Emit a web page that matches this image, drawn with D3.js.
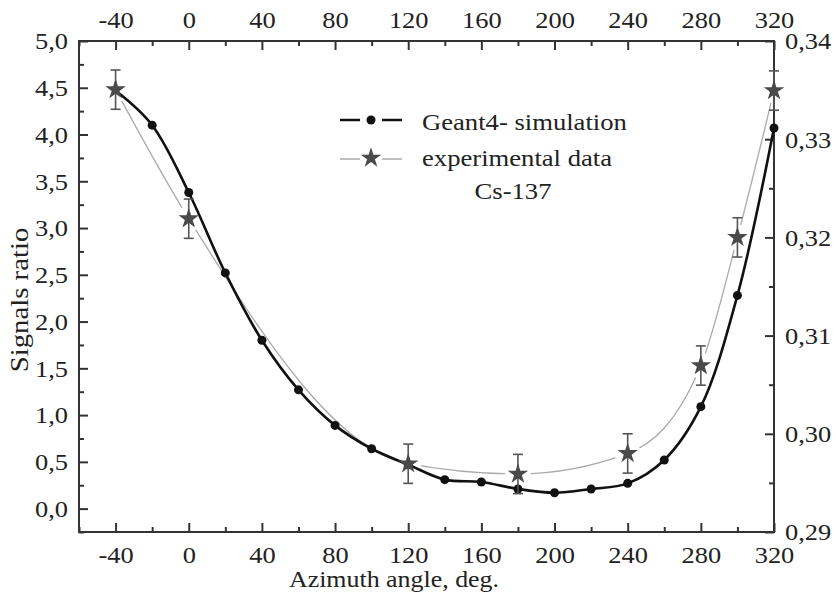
<!DOCTYPE html>
<html>
<head>
<meta charset="utf-8">
<script src="https://cdn.jsdelivr.net/npm/d3@7"></script>
<style>
  html, body { margin: 0; padding: 0; background: #fff; }
  svg text { font-family: "Liberation Serif", "Times New Roman", serif; fill: #222; }
</style>
</head>
<body>
<svg id="chart" width="836" height="597"></svg>
<script>
// ---- data ----
const simAngles = [-40, -20, 0, 20, 40, 60, 80, 100, 120, 140, 160, 180, 200, 220, 240, 260, 280, 300, 320];
const simValues = [4.47, 4.10, 3.38, 2.52, 1.80, 1.27, 0.89, 0.64, 0.47, 0.31, 0.285, 0.21, 0.17, 0.21, 0.27, 0.52, 1.09, 2.28, 4.07];
const expAngles = [-40, 0, 120, 180, 240, 280, 300, 320];
const expValues = [4.48, 3.10, 0.48, 0.37, 0.59, 1.53, 2.90, 4.47];
const expErrors = [0.21, 0.21, 0.21, 0.21, 0.21, 0.21, 0.21, 0.21];
const xTicks = [-40, 0, 40, 80, 120, 160, 200, 240, 280, 320];
const xMinorTicks = [-60, -20, 20, 60, 100, 140, 180, 220, 260, 300];
const yTicks = [0, 0.5, 1, 1.5, 2, 2.5, 3, 3.5, 4, 4.5, 5];
const yMinorTicks = [-0.25, 0.25, 0.75, 1.25, 1.75, 2.25, 2.75, 3.25, 3.75, 4.25, 4.75];
const yRightTicks = [0.29, 0.30, 0.31, 0.32, 0.33, 0.34];
const yRightMinorTicks = [0.295, 0.305, 0.315, 0.325, 0.335];
const legendLabels = ["Geant4- simulation", "experimental data", "Cs-137"];
const xTitle = "Azimuth angle, deg.";
const yTitle = "Signals ratio";

// ---- layout ----
const L = 79, R = 774, T = 41, B = 532;
const SX = 1.15;   // horizontal stretch of the lettering in the reference
const svg = d3.select("#chart");
const x = d3.scaleLinear().domain([-60, 320]).range([L, R]);
const y = d3.scaleLinear().domain([-0.25, 5]).range([B, T]);
const yR = d3.scaleLinear().domain([0.29, 0.34]).range([B, T]);
const fmt1 = d => d.toFixed(1).replace(".", ",");
const fmt2 = d => d.toFixed(2).replace(".", ",");
const axisColor = "#333";

function styleAxis(g) {
  g.select(".domain").remove();
  g.selectAll("line").attr("stroke", axisColor).attr("stroke-width", 2);
  g.selectAll("text").attr("font-size", 23).attr("fill", "#222").attr("font-family", "Liberation Serif");
}

// bottom
svg.append("g").attr("transform", `translate(0,${B})`)
  .call(d3.axisBottom(x).tickValues(xTicks).tickSize(-9).tickFormat(d => d))
  .call(styleAxis)
  .call(g => g.selectAll("text").attr("dy", null).attr("y", 31).attr("transform", `scale(${SX},1)`));
svg.append("g").attr("transform", `translate(0,${B})`)
  .call(d3.axisBottom(x).tickValues(xMinorTicks).tickSize(-5).tickFormat(""))
  .call(styleAxis);
// top
svg.append("g").attr("transform", `translate(0,${T})`)
  .call(d3.axisTop(x).tickValues(xTicks).tickSize(-9).tickFormat(d => d))
  .call(styleAxis)
  .call(g => g.selectAll("text").attr("dy", null).attr("y", -13).attr("transform", `scale(${SX},1)`));
svg.append("g").attr("transform", `translate(0,${T})`)
  .call(d3.axisTop(x).tickValues(xMinorTicks).tickSize(-5).tickFormat(""))
  .call(styleAxis);
// left
svg.append("g").attr("transform", `translate(${L},0)`)
  .call(d3.axisLeft(y).tickValues(yTicks).tickSize(-9).tickPadding(11).tickFormat(fmt1))
  .call(styleAxis)
  .call(g => g.selectAll("text").attr("dy", "0.34em").attr("x", -11 / SX).attr("transform", `scale(${SX},1)`));
svg.append("g").attr("transform", `translate(${L},0)`)
  .call(d3.axisLeft(y).tickValues(yMinorTicks).tickSize(-5).tickFormat(""))
  .call(styleAxis);
// right
svg.append("g").attr("transform", `translate(${R},0)`)
  .call(d3.axisRight(yR).tickValues(yRightTicks).tickSize(-9).tickPadding(11).tickFormat(fmt2))
  .call(styleAxis)
  .call(g => g.selectAll("text").attr("dy", "0.34em").attr("x", 11 / SX).attr("transform", `scale(${SX},1)`));
svg.append("g").attr("transform", `translate(${R},0)`)
  .call(d3.axisRight(yR).tickValues(yRightMinorTicks).tickSize(-5).tickFormat(""))
  .call(styleAxis);

// frame
svg.append("rect").attr("x", L).attr("y", T).attr("width", R - L).attr("height", B - T)
  .attr("fill", "none").attr("stroke", axisColor).attr("stroke-width", 2);

// titles
svg.append("text").attr("transform", "translate(394,587) scale(1.08,1)").attr("text-anchor", "middle")
  .attr("font-size", 24).text(xTitle);
svg.append("text").attr("transform", "translate(28,300) rotate(-90) scale(1.15,1)").attr("text-anchor", "middle")
  .attr("font-size", 25).text(yTitle);

// ---- data marks ----
const expPts = expAngles.map((a, i) => ({ a, v: expValues[i], e: expErrors[i] }));
const simPts = simAngles.map((a, i) => ({ a, v: simValues[i] }));

// mask to break gray line around stars
const defs = svg.append("defs");
const mask = defs.append("mask").attr("id", "starGap").attr("maskUnits", "userSpaceOnUse")
  .attr("x", 0).attr("y", 0).attr("width", 836).attr("height", 597);
mask.append("rect").attr("width", 836).attr("height", 597).attr("fill", "#fff");
mask.selectAll("circle").data(expPts).join("circle")
  .attr("cx", d => x(d.a)).attr("cy", d => y(d.v)).attr("r", 13).attr("fill", "#000");

const grayLine = d3.line().x(d => x(d.a)).y(d => y(d.v)).curve(d3.curveMonotoneX);
svg.append("path").datum(expPts).attr("d", grayLine)
  .attr("fill", "none").attr("stroke", "#aaa").attr("stroke-width", 1.3)
  .attr("mask", "url(#starGap)");

const blackLine = d3.line().x(d => x(d.a)).y(d => y(d.v)).curve(d3.curveCatmullRom.alpha(0.5));
svg.append("path").datum(simPts).attr("d", blackLine)
  .attr("fill", "none").attr("stroke", "#111").attr("stroke-width", 2.6);

svg.append("g").selectAll("circle").data(simPts.slice(1)).join("circle")
  .attr("cx", d => x(d.a)).attr("cy", d => y(d.v)).attr("r", 4.5).attr("fill", "#111");

// error bars
const eb = svg.append("g").attr("stroke", "#555").attr("stroke-width", 1.6);
expPts.forEach(d => {
  const cx = x(d.a);
  eb.append("line").attr("x1", cx).attr("x2", cx).attr("y1", y(d.v + d.e)).attr("y2", y(d.v - d.e));
  eb.append("line").attr("x1", cx - 5).attr("x2", cx + 5).attr("y1", y(d.v + d.e)).attr("y2", y(d.v + d.e));
  eb.append("line").attr("x1", cx - 5).attr("x2", cx + 5).attr("y1", y(d.v - d.e)).attr("y2", y(d.v - d.e));
});

const star = d3.symbol().type(d3.symbolStar).size(130);
svg.append("g").selectAll("path").data(expPts).join("path")
  .attr("transform", d => `translate(${x(d.a)},${y(d.v)})`)
  .attr("d", star).attr("fill", "#4a4a4a");

// ---- legend ----
const lg = svg.append("g");
lg.append("line").attr("x1", 340).attr("x2", 402).attr("y1", 120).attr("y2", 120)
  .attr("stroke", "#111").attr("stroke-width", 2.6).attr("stroke-dasharray", "20,22");
lg.append("circle").attr("cx", 371).attr("cy", 120).attr("r", 4.5).attr("fill", "#111");
lg.append("line").attr("x1", 340).attr("x2", 402).attr("y1", 159).attr("y2", 159)
  .attr("stroke", "#aaa").attr("stroke-width", 1.3).attr("stroke-dasharray", "20,22");
lg.append("path").attr("transform", "translate(371,158)").attr("d", star).attr("fill", "#4a4a4a");
lg.append("text").attr("transform", `translate(422,130) scale(1.11,1)`).attr("font-size", 24).text(legendLabels[0]);
lg.append("text").attr("transform", `translate(422,166) scale(1.11,1)`).attr("font-size", 24).text(legendLabels[1]);
lg.append("text").attr("transform", `translate(513,199) scale(1.11,1)`).attr("font-size", 24).attr("text-anchor", "middle").text(legendLabels[2]);
</script>
</body>
</html>
